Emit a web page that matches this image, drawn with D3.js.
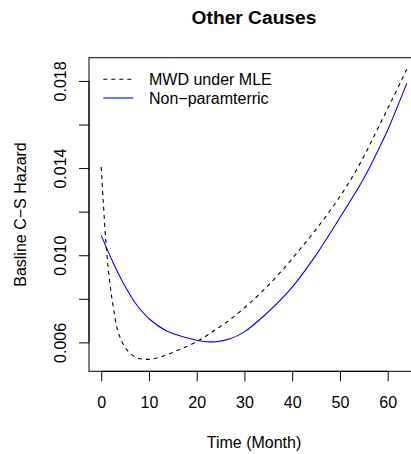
<!DOCTYPE html>
<html>
<head>
<meta charset="utf-8">
<script src="https://cdn.jsdelivr.net/npm/d3@7"></script>
<style>
  html, body { margin: 0; padding: 0; background: #fff; overflow: hidden; }
  text { font-family: "Liberation Sans", Arial, Helvetica, sans-serif; }
</style>
</head>
<body>
<svg id="chart" width="411" height="454"></svg>
<script>
// ---- data ----
const title = "Other Causes";
const xLabel = "Time (Month)";
const yLabel = "Basline C\u2212S Hazard";
const seriesNames = ["MWD under MLE", "Non\u2212paramterric"];

const mwdTime = [0, 0.4, 1.1, 1.8, 2.5, 3.6, 5.3, 7.4, 10, 13, 16.5, 20, 23.5, 27, 30.5, 34, 37.5, 41, 44.4, 48, 51.4, 55, 58, 61, 64];
const mwdHazard = [0.01405, 0.01255, 0.01026, 0.00873, 0.00766, 0.00644, 0.00568, 0.0053, 0.00522, 0.00537, 0.00568, 0.00603, 0.00652, 0.00705, 0.00768, 0.00840, 0.00921, 0.01011, 0.01102, 0.01207, 0.01316, 0.01453, 0.01585, 0.01718, 0.01854];

const npTime = [0, 2.5, 4.6, 7.1, 10.2, 13.7, 17.9, 20, 22.1, 24, 27, 29.8, 34, 39.6, 44.4, 49.3, 54.2, 55.6, 58.1, 60, 64];
const npHazard = [0.01091, 0.00965, 0.00873, 0.00782, 0.00705, 0.00652, 0.00621, 0.00610, 0.00603, 0.00603, 0.00617, 0.00646, 0.00720, 0.00843, 0.00982, 0.01148, 0.01322, 0.01377, 0.01487, 0.01575, 0.01789];

const xTicks = [0, 10, 20, 30, 40, 50, 60];
const yTicks = [0.006, 0.008, 0.010, 0.012, 0.014, 0.016, 0.018];
const yTickLabels = [0.006, 0.010, 0.014, 0.018];

// ---- layout ----
const plot = { left: 89, right: 419, top: 57.7, bottom: 371.3 };
const svg = d3.select("#chart");

const xMin = 0, xMax = 64;
const xPad = (xMax - xMin) * 0.04;
const x = d3.scaleLinear().domain([xMin - xPad, xMax + xPad]).range([plot.left, plot.right]);

const yMin = 0.005205, yMax = 0.018534;
const yPad = (yMax - yMin) * 0.04;
const y = d3.scaleLinear().domain([yMin - yPad, yMax + yPad]).range([plot.bottom, plot.top]);

// box
svg.append("rect")
  .attr("x", plot.left).attr("y", plot.top)
  .attr("width", plot.right - plot.left).attr("height", plot.bottom - plot.top)
  .attr("fill", "none").attr("stroke", "#000").attr("stroke-width", 1);

// x axis
const gx = svg.append("g").attr("transform", `translate(0,${plot.bottom})`)
  .call(d3.axisBottom(x).tickValues(xTicks).tickSize(10).tickFormat(d3.format("d")));
gx.select(".domain").remove();
gx.selectAll(".tick line").attr("stroke", "#000");
gx.append("line").attr("x1", x(xTicks[0])).attr("x2", x(xTicks[xTicks.length - 1]))
  .attr("y1", 0).attr("y2", 0).attr("stroke", "#000");
gx.selectAll(".tick text")
  .attr("y", 37).attr("dy", null)
  .attr("font-size", 16).attr("fill", "#000")
  .attr("font-family", "Liberation Sans, Arial, sans-serif");

// y axis
const gy = svg.append("g").attr("transform", `translate(${plot.left},0)`)
  .call(d3.axisLeft(y).tickValues(yTicks).tickSize(10)
    .tickFormat(d => yTickLabels.some(v => Math.abs(v - d) < 1e-9) ? d3.format(".3f")(d) : ""));
gy.select(".domain").remove();
gy.selectAll(".tick line").attr("stroke", "#000");
gy.append("line").attr("y1", y(yTicks[0])).attr("y2", y(yTicks[yTicks.length - 1]))
  .attr("x1", 0).attr("x2", 0).attr("stroke", "#000");
gy.selectAll(".tick text")
  .attr("x", null).attr("y", null).attr("dy", null)
  .attr("text-anchor", "middle")
  .attr("transform", "translate(-23.4,0) rotate(-90)")
  .attr("font-size", 16).attr("fill", "#000")
  .attr("font-family", "Liberation Sans, Arial, sans-serif");

// titles
svg.append("text")
  .attr("x", (plot.left + plot.right) / 2).attr("y", 24)
  .attr("text-anchor", "middle").attr("font-size", 19.2).attr("font-weight", "bold")
  .text(title);
svg.append("text")
  .attr("x", (plot.left + plot.right) / 2).attr("y", 447.5)
  .attr("text-anchor", "middle").attr("font-size", 16)
  .text(xLabel);
svg.append("text")
  .attr("transform", `translate(26,${(plot.top + plot.bottom) / 2}) rotate(-90)`)
  .attr("text-anchor", "middle").attr("font-size", 16)
  .text(yLabel);

// lines
const line = d3.line().x(d => x(d[0])).y(d => y(d[1])).curve(d3.curveCatmullRom.alpha(0.5));
const mwdData = mwdTime.map((t, i) => [t, mwdHazard[i]]);
const npData = npTime.map((t, i) => [t, npHazard[i]]);

svg.append("path").datum(npData)
  .attr("d", line).attr("fill", "none").attr("stroke", "#0000ff").attr("stroke-width", 1.1);
svg.append("path").datum(mwdData)
  .attr("d", line).attr("fill", "none").attr("stroke", "#000").attr("stroke-width", 1.1)
  .attr("stroke-dasharray", "4,4");

// legend
const legend = svg.append("g");
const legendRows = [
  { name: seriesNames[0], color: "#000", dash: "4,4", yLine: 79.3, yText: 84.5 },
  { name: seriesNames[1], color: "#0000ff", dash: null, yLine: 98, yText: 104 }
];
legendRows.forEach(r => {
  legend.append("line")
    .attr("x1", 103.3).attr("x2", 133.3).attr("y1", r.yLine).attr("y2", r.yLine)
    .attr("stroke", r.color).attr("stroke-width", 1.1)
    .attr("stroke-dasharray", r.dash);
  legend.append("text")
    .attr("x", 149).attr("y", r.yText).attr("font-size", 16).text(r.name);
});
</script>
</body>
</html>
